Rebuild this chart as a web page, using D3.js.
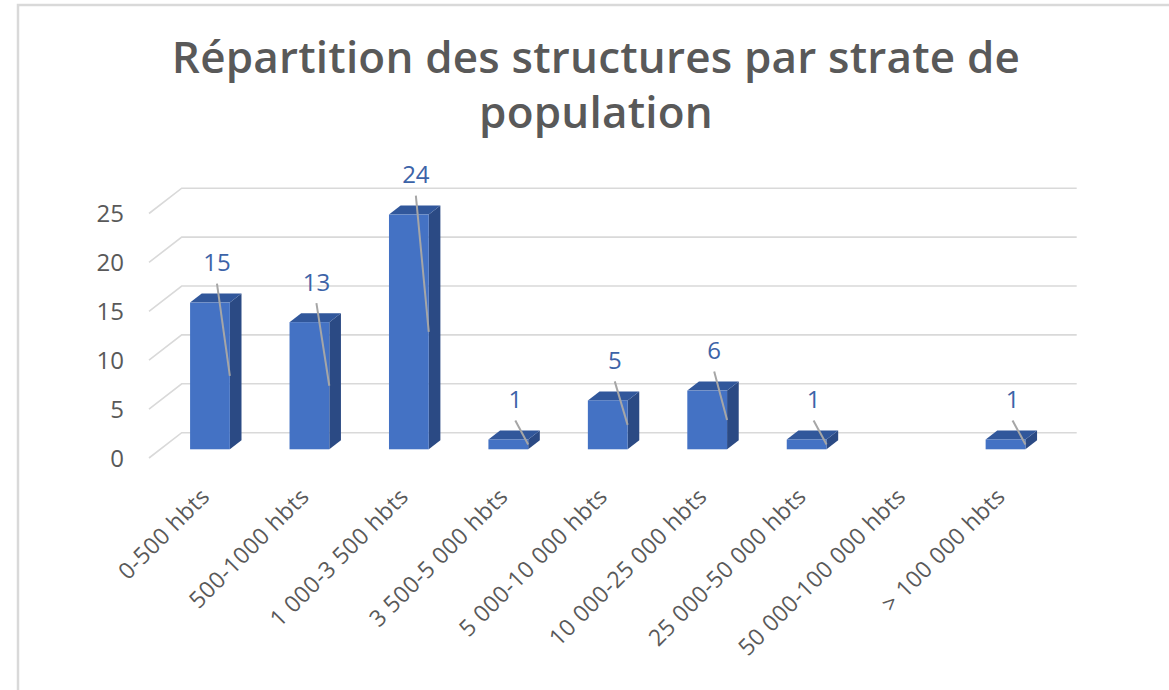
<!DOCTYPE html>
<html>
<head>
<meta charset="utf-8">
<script src="https://cdn.jsdelivr.net/npm/d3@7"></script>
<style>
  body { margin: 0; background: #fff; }
  text { font-family: "Open Sans", Lato, sans-serif; }
</style>
</head>
<body>
<div id="chart"></div>
<script>
const width = 1169;
const height = 690;

// data
const strates = ['0-500 hbts', '500-1000 hbts', '1 000-3 500 hbts', '3 500-5 000 hbts',
  '5 000-10 000 hbts', '10 000-25 000 hbts', '25 000-50 000 hbts', '50 000-100 000 hbts', '> 100 000 hbts'];
const structures = [15, 13, 24, 1, 5, 6, 1, 0, 1];
const yTicks = [0, 5, 10, 15, 20, 25];
const titleLines = ['Répartition des structures par strate de', 'population'];

// fake 3D: how far the back wall sits from the front plane
const depthX = 32.7;
const depthY = -25.3;
const barFront = 0.344; // depth of bar front face (0 = front, 1 = back wall)
const barBack = 0.70;

const x = d3.scaleBand().domain(strates).range([149, 1044]).paddingInner(0.6).paddingOuter(0.3);
const y = d3.scaleLinear().domain([0, 25]).range([458, 213.5]);

const svg = d3.select('#chart').append('svg').attr('width', width).attr('height', height);

// chart area border (only top + left visible in the shot)
svg.append('path')
  .attr('d', `M18,${height} V5 H${width}`)
  .attr('fill', 'none')
  .attr('stroke', '#d9d9d9')
  .attr('stroke-width', 2.5);

// title
svg.append('text')
  .attr('text-anchor', 'middle')
  .attr('fill', '#595959')
  .style('font-size', '44px')
  .style('font-weight', 600)
  .style('letter-spacing', '0.2px')
  .selectAll('tspan')
  .data(titleLines)
  .join('tspan')
  .attr('x', 596)
  .attr('y', (d, i) => 73 + i * 55)
  .text(d => d);

// gridlines: side wall diagonal + back wall horizontal
const x0 = x.range()[0], x1 = x.range()[1];
svg.append('g')
  .selectAll('path')
  .data(yTicks)
  .join('path')
  .attr('d', t => `M${x0},${y(t)} L${x0 + depthX},${y(t) + depthY} H${x1 + depthX}`)
  .attr('fill', 'none')
  .attr('stroke', '#d9d9d9')
  .attr('stroke-width', 1.6);

// y axis labels
svg.append('g')
  .selectAll('text')
  .data(yTicks)
  .join('text')
  .attr('x', 124)
  .attr('y', t => y(t))
  .attr('dy', '0.36em')
  .attr('text-anchor', 'end')
  .attr('fill', '#595959')
  .style('font-size', '24px')
  .text(t => t);

// bars
const ddx = (barBack - barFront) * depthX;
const ddy = (barBack - barFront) * depthY;
const bw = x.bandwidth();
const bars = strates.map((s, i) => {
  const left = x(s) + barFront * depthX;
  const base = y(0) + barFront * depthY;
  const top = y(structures[i]) + barFront * depthY;
  return { s, v: structures[i], left, base, top };
}).filter(d => d.v > 0);

const g = svg.append('g');
const barG = g.selectAll('g.bar').data(bars).join('g').attr('class', 'bar');

barG.append('path')
  .attr('d', d => `M${d.left + bw},${d.top} L${d.left + bw + ddx},${d.top + ddy} L${d.left + bw + ddx},${d.base + ddy} L${d.left + bw},${d.base} Z`)
  .attr('fill', '#2b4a84');

barG.append('path')
  .attr('d', d => `M${d.left},${d.top} L${d.left + bw},${d.top} L${d.left + bw + ddx},${d.top + ddy} L${d.left + ddx},${d.top + ddy} Z`)
  .attr('fill', '#31579b');

barG.append('rect')
  .attr('x', d => d.left)
  .attr('y', d => d.top)
  .attr('width', bw)
  .attr('height', d => d.base - d.top)
  .attr('fill', '#4472c4');

// data labels with leader lines
const lab = svg.append('g').selectAll('g').data(bars).join('g');
lab.append('line')
  .attr('x1', d => d.left + bw / 2 + 7)
  .attr('y1', d => d.top - 19)
  .attr('x2', d => d.left + bw)
  .attr('y2', d => (d.top + d.base) / 2)
  .attr('stroke', '#a6a6a6')
  .attr('stroke-width', 2);
lab.append('text')
  .attr('x', d => d.left + bw / 2 + 7)
  .attr('y', d => d.top - 40)
  .attr('dy', '0.36em')
  .attr('text-anchor', 'middle')
  .attr('fill', '#3c63a8')
  .style('font-size', '24px')
  .text(d => d.v);

// category labels, rotated
svg.append('g')
  .selectAll('text')
  .data(strates)
  .join('text')
  .attr('transform', s => `translate(${x(s) + barFront * depthX + bw / 2 + 1},498) rotate(-45)`)
  .attr('text-anchor', 'end')
  .attr('fill', '#595959')
  .style('font-size', '23px')
  .style('letter-spacing', '0.4px')
  .text(s => s);
</script>
</body>
</html>
